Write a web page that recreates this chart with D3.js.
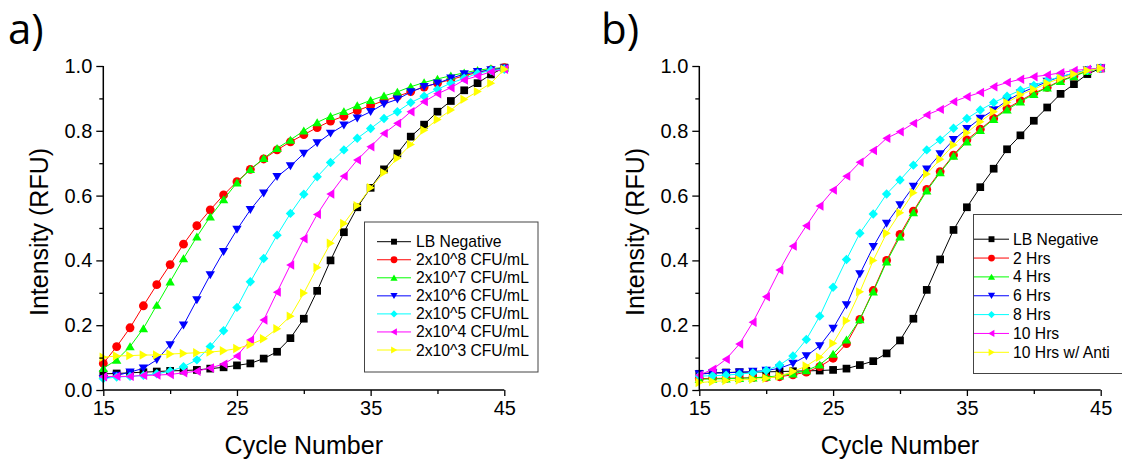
<!DOCTYPE html>
<html>
<head>
<meta charset="utf-8">
<script src="https://cdn.jsdelivr.net/npm/d3@7"></script>
<style>
  html, body { margin: 0; padding: 0; background: #fff; }
  svg { display: block; }
  text { font-family: "Liberation Sans", Arial, sans-serif; fill: #000; }
  .panel-tag { font-family: "Open Sans", "Noto Sans", sans-serif; }
</style>
</head>
<body>
<svg id="fig" width="1122" height="461"></svg>
<script>
// Cycle numbers shared by every curve
const cycles = d3.range(15, 46);

// Panel a: serial dilutions
const aLabels = ["LB Negative", "2x10^8 CFU/mL", "2x10^7 CFU/mL", "2x10^6 CFU/mL",
                 "2x10^5 CFU/mL", "2x10^4 CFU/mL", "2x10^3 CFU/mL"];
const aLBNegative = [0.05,0.051,0.053,0.055,0.057,0.059,0.06,0.062,0.066,0.07,0.076,0.082,0.097,0.118,0.16,0.22,
                     0.306,0.40,0.487,0.564,0.624,0.681,0.73,0.782,0.819,0.859,0.892,0.925,0.947,0.974,0.995];
const aE8 = [0.082,0.134,0.192,0.26,0.325,0.387,0.45,0.507,0.556,0.602,0.643,0.681,0.713,0.741,0.766,0.788,
             0.81,0.83,0.845,0.862,0.878,0.893,0.906,0.921,0.935,0.947,0.958,0.97,0.98,0.988,0.995];
const aE7 = [0.067,0.093,0.134,0.19,0.262,0.334,0.406,0.473,0.535,0.588,0.64,0.681,0.715,0.746,0.772,0.8,
             0.826,0.845,0.86,0.878,0.894,0.908,0.92,0.936,0.949,0.96,0.97,0.979,0.987,0.992,0.995];
const aE6 = [0.035,0.045,0.055,0.067,0.093,0.139,0.2,0.278,0.355,0.427,0.495,0.556,0.607,0.658,0.691,0.73,
             0.762,0.792,0.817,0.839,0.859,0.883,0.897,0.92,0.936,0.947,0.962,0.975,0.982,0.988,0.993];
const aE5 = [0.035,0.04,0.042,0.045,0.05,0.058,0.072,0.093,0.134,0.183,0.255,0.334,0.406,0.478,0.545,0.604,
             0.658,0.702,0.741,0.777,0.807,0.838,0.859,0.887,0.907,0.928,0.947,0.962,0.977,0.986,0.99];
const aE4 = [0.041,0.042,0.042,0.045,0.046,0.048,0.053,0.058,0.068,0.08,0.105,0.154,0.216,0.302,0.386,0.467,
             0.542,0.605,0.66,0.71,0.751,0.792,0.823,0.859,0.89,0.914,0.933,0.957,0.969,0.982,0.99];
const aE3 = [0.101,0.105,0.106,0.108,0.108,0.111,0.113,0.115,0.117,0.121,0.128,0.14,0.158,0.189,0.228,0.299,
             0.378,0.453,0.514,0.569,0.624,0.671,0.715,0.758,0.802,0.835,0.864,0.897,0.921,0.947,0.99];

// Panel b: incubation times
const bLabels = ["LB Negative", "2 Hrs", "4 Hrs", "6 Hrs", "8 Hrs", "10 Hrs", "10 Hrs w/ Anti"];
const bLBNegative = [0.05,0.053,0.054,0.055,0.055,0.056,0.057,0.058,0.059,0.06,0.062,0.066,0.077,0.089,0.113,0.153,
                     0.22,0.309,0.403,0.494,0.564,0.626,0.683,0.743,0.786,0.831,0.872,0.914,0.944,0.975,0.993];
const b2h = [0.035,0.036,0.036,0.037,0.038,0.039,0.041,0.047,0.055,0.072,0.098,0.143,0.218,0.307,0.40,0.48,
             0.552,0.619,0.674,0.725,0.772,0.805,0.838,0.869,0.893,0.916,0.934,0.955,0.969,0.986,0.993];
const b4h = [0.033,0.034,0.035,0.036,0.038,0.04,0.044,0.05,0.06,0.078,0.111,0.155,0.218,0.303,0.396,0.473,
             0.548,0.615,0.671,0.722,0.766,0.802,0.836,0.865,0.89,0.913,0.933,0.953,0.968,0.984,0.993];
const b6h = [0.049,0.052,0.053,0.055,0.057,0.06,0.067,0.082,0.105,0.136,0.19,0.262,0.358,0.442,0.514,0.571,
             0.628,0.681,0.728,0.772,0.806,0.838,0.864,0.893,0.916,0.934,0.952,0.967,0.977,0.988,0.993];
const b8h = [0.043,0.044,0.046,0.049,0.053,0.06,0.077,0.105,0.156,0.228,0.317,0.403,0.484,0.543,0.605,0.648,
             0.694,0.741,0.772,0.808,0.838,0.864,0.887,0.907,0.925,0.94,0.955,0.967,0.978,0.987,0.993];
const b10h = [0.046,0.064,0.095,0.142,0.209,0.288,0.37,0.444,0.507,0.568,0.617,0.66,0.703,0.739,0.777,0.797,
              0.823,0.849,0.866,0.89,0.905,0.918,0.936,0.949,0.959,0.967,0.972,0.979,0.986,0.99,0.993];
const b10hAnti = [0.023,0.026,0.029,0.031,0.033,0.036,0.043,0.057,0.074,0.101,0.144,0.214,0.303,0.40,0.484,0.547,
                  0.609,0.667,0.712,0.756,0.794,0.828,0.859,0.887,0.911,0.928,0.947,0.962,0.975,0.986,0.993];

// Axis ticks
const xMajorTicks = [15, 25, 35, 45];
const xMinorTicks = [20, 30, 40];
const yMajorTicks = [0, 0.2, 0.4, 0.6, 0.8, 1.0];
const yMinorTicks = [0.1, 0.3, 0.5, 0.7, 0.9];

const colors = ["#000000", "#ff0000", "#00ff00", "#0000ff", "#00ffff", "#ff00ff", "#ffff00"];
const shapes = ["square", "circle", "up", "down", "diamond", "left", "right"];

// Custom marker shapes, sized by half-width r
function markerPath(shape, r) {
  const p = d3.path();
  switch (shape) {
    case "square": p.rect(-r * 0.82, -r * 0.82, r * 1.64, r * 1.64); break;
    case "circle": p.arc(0, 0, r * 0.94, 0, 2 * Math.PI); break;
    case "up": p.moveTo(0, -r * 0.9); p.lineTo(r, r * 0.8); p.lineTo(-r, r * 0.8); p.closePath(); break;
    case "down": p.moveTo(0, r * 0.9); p.lineTo(r, -r * 0.8); p.lineTo(-r, -r * 0.8); p.closePath(); break;
    case "left": p.moveTo(-r * 0.9, 0); p.lineTo(r * 0.8, -r); p.lineTo(r * 0.8, r); p.closePath(); break;
    case "right": p.moveTo(r * 0.9, 0); p.lineTo(-r * 0.8, -r); p.lineTo(-r * 0.8, r); p.closePath(); break;
    case "diamond": p.moveTo(0, -r); p.lineTo(r, 0); p.lineTo(0, r); p.lineTo(-r, 0); p.closePath(); break;
  }
  return p.toString();
}

const svg = d3.select("#fig");
svg.append("rect").attr("width", 1122).attr("height", 461).attr("fill", "#fff");

function drawPanel(cfg) {
  const g = svg.append("g");
  const x = d3.scaleLinear().domain([15, 45]).range([cfg.left, cfg.right]);
  const y = d3.scaleLinear().domain([0, 1]).range([cfg.bottom, cfg.top]);

  // Series: line first, markers on top, in legend order
  const line = d3.line().x((d, i) => x(cycles[i])).y(d => y(d));
  cfg.series.forEach((vals, k) => {
    g.append("path").datum(vals)
      .attr("d", line).attr("fill", "none")
      .attr("stroke", colors[k]).attr("stroke-width", 1);
    g.selectAll(null).data(vals).enter().append("path")
      .attr("transform", (d, i) => `translate(${x(cycles[i])},${y(d)})`)
      .attr("d", markerPath(shapes[k], 4.7))
      .attr("fill", colors[k]);
  });

  // Axes
  const xAxis = d3.axisBottom(x).tickValues(xMajorTicks).tickFormat(d3.format("d"))
    .tickSize(6).tickPadding(5);
  const xAxisMinor = d3.axisBottom(x).tickValues(xMinorTicks).tickFormat("").tickSize(4);
  const yAxis = d3.axisLeft(y).tickValues(yMajorTicks).tickFormat(d3.format(".1f"))
    .tickSize(7).tickPadding(4);
  const yAxisMinor = d3.axisLeft(y).tickValues(yMinorTicks).tickFormat("").tickSize(4);

  const styleAxis = a => {
    a.select(".domain").attr("stroke", "#000").attr("stroke-width", 1.5);
    a.selectAll(".tick line").attr("stroke", "#000").attr("stroke-width", 1.3);
    a.selectAll(".tick text").attr("font-size", 20).attr("fill", "#000");
  };
  const gx = g.append("g").attr("transform", `translate(0,${cfg.bottom})`).call(xAxis).call(styleAxis);
  gx.select(".domain").attr("d", `M${cfg.left},0H${cfg.right}`);
  const gxm = g.append("g").attr("transform", `translate(0,${cfg.bottom})`).call(xAxisMinor).call(styleAxis);
  gxm.select(".domain").remove();
  const gy = g.append("g").attr("transform", `translate(${cfg.left},0)`).call(yAxis).call(styleAxis);
  gy.select(".domain").attr("d", `M0,${cfg.top}V${cfg.bottom}`);
  const gym = g.append("g").attr("transform", `translate(${cfg.left},0)`).call(yAxisMinor).call(styleAxis);
  gym.select(".domain").remove();

  // Axis titles
  g.append("text").attr("x", (cfg.left + cfg.right) / 2).attr("y", 454)
    .attr("text-anchor", "middle").attr("font-size", 25).text("Cycle Number");
  g.append("text")
    .attr("transform", `translate(${cfg.left - 55},${(cfg.top + cfg.bottom) / 2 + 4}) rotate(-90)`)
    .attr("text-anchor", "middle").attr("font-size", 25).text("Intensity (RFU)");

  // Panel tag
  g.append("text").attr("class", "panel-tag").attr("x", cfg.tagX).attr("y", 44)
    .attr("font-size", 42).text(cfg.tag);

  // Legend
  const L = cfg.legend;
  g.append("rect").attr("x", L.x).attr("y", L.y).attr("width", L.w).attr("height", L.h)
    .attr("fill", "#fff").attr("stroke", "#444").attr("stroke-width", 1);
  cfg.labels.forEach((lab, k) => {
    const ry = L.row0 + k * L.step;
    g.append("line").attr("x1", L.lineX0).attr("x2", L.lineX1).attr("y1", ry).attr("y2", ry)
      .attr("stroke", colors[k]).attr("stroke-width", 1);
    g.append("path").attr("transform", `translate(${(L.lineX0 + L.lineX1) / 2},${ry})`)
      .attr("d", markerPath(shapes[k], 3.6)).attr("fill", colors[k]);
    g.append("text").attr("x", L.textX).attr("y", ry + 5.5).attr("font-size", 15.7).text(lab);
  });
}

drawPanel({
  left: 103.3, right: 504.3, top: 66, bottom: 390, tag: "a)", tagX: 8,
  series: [aLBNegative, aE8, aE7, aE6, aE5, aE4, aE3], labels: aLabels,
  legend: { x: 364.5, y: 222, w: 173.5, h: 150, row0: 241.7, step: 18.05, lineX0: 377, lineX1: 411, textX: 416 }
});

drawPanel({
  left: 699.3, right: 1100.7, top: 66, bottom: 390, tag: "b)", tagX: 601,
  series: [bLBNegative, b2h, b4h, b6h, b8h, b10h, b10hAnti], labels: bLabels,
  legend: { x: 973.5, y: 214.5, w: 160, h: 159, row0: 239.2, step: 18.85, lineX0: 974, lineX1: 1009, textX: 1013 }
});
</script>
</body>
</html>
